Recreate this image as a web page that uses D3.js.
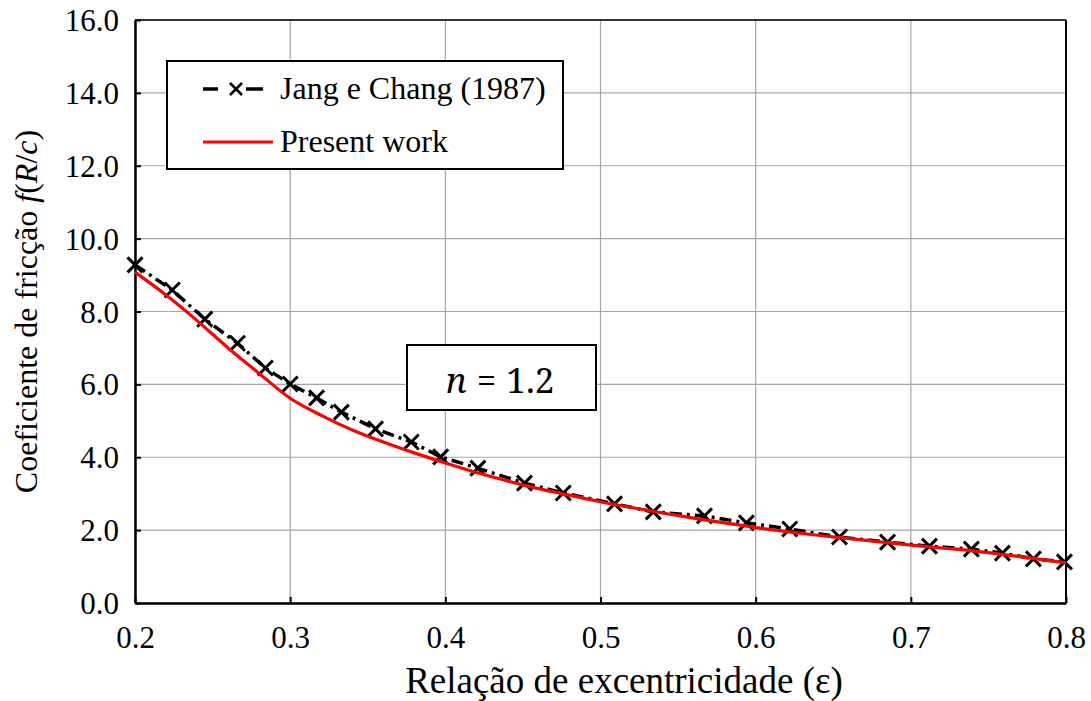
<!DOCTYPE html>
<html>
<head>
<meta charset="utf-8">
<script src="https://cdn.jsdelivr.net/npm/d3@7"></script>
</head>
<body style="margin:0">
<svg id="chart" width="1091" height="701" font-family="Liberation Serif" style="display:block"></svg>
<script>
// Jang e Chang (1987): eccentricity ratio and friction coefficient f(R/c)
const jangEps = [0.200, 0.224, 0.245, 0.266, 0.284, 0.300, 0.317, 0.333, 0.355, 0.378, 0.397,
                 0.421, 0.451, 0.476, 0.509, 0.534, 0.567, 0.594, 0.622, 0.654, 0.685, 0.712,
                 0.739, 0.759, 0.779, 0.799];
const jangF   = [9.28, 8.59, 7.79, 7.13, 6.45, 6.01, 5.63, 5.24, 4.78, 4.42, 4.01,
                 3.70, 3.29, 3.02, 2.72, 2.50, 2.39, 2.20, 2.03, 1.81, 1.67, 1.56,
                 1.48, 1.37, 1.21, 1.13];

// Present work
const workEps = [0.20, 0.22, 0.24, 0.26, 0.28, 0.30, 0.32, 0.34, 0.36, 0.38, 0.40,
                 0.42, 0.44, 0.46, 0.48, 0.50, 0.52, 0.54, 0.56, 0.58, 0.60,
                 0.62, 0.64, 0.66, 0.68, 0.70, 0.72, 0.74, 0.76, 0.78, 0.80];
const workF   = [9.08, 8.45, 7.75, 7.00, 6.30, 5.62, 5.15, 4.75, 4.42, 4.12, 3.84,
                 3.58, 3.35, 3.14, 2.96, 2.78, 2.62, 2.47, 2.33, 2.20, 2.07,
                 1.96, 1.86, 1.77, 1.68, 1.59, 1.51, 1.43, 1.33, 1.22, 1.10];

const xTicks = [0.2, 0.3, 0.4, 0.5, 0.6, 0.7, 0.8];
const yTicks = [0, 2, 4, 6, 8, 10, 12, 14, 16];
const seriesNames = ["Jang e Chang (1987)", "Present work"];

const W = 1091, H = 701;
const margin = { top: 20, right: 25, bottom: 98, left: 135 };
const svg = d3.select("#chart");
const serif = '"Liberation Serif"';
const mathFont = '"Noto Serif"';

const x = d3.scaleLinear().domain([0.2, 0.8]).range([margin.left, W - margin.right]);
const y = d3.scaleLinear().domain([0, 16]).range([H - margin.bottom, margin.top]);

// grid
const grid = svg.append("g");
grid.selectAll("line.v").data(xTicks).join("line")
  .attr("x1", d => x(d)).attr("x2", d => x(d))
  .attr("y1", y(0)).attr("y2", y(16))
  .attr("stroke", "#a6a6a6").attr("stroke-width", 1.2);
grid.selectAll("line.h").data(yTicks).join("line")
  .attr("x1", x(0.2)).attr("x2", x(0.8))
  .attr("y1", d => y(d)).attr("y2", d => y(d))
  .attr("stroke", "#a6a6a6").attr("stroke-width", 1.2);

// frame
svg.append("line").attr("x1", x(0.2)).attr("x2", x(0.8)).attr("y1", y(16)).attr("y2", y(16))
  .attr("stroke", "#000").attr("stroke-width", 1.5);
svg.append("line").attr("x1", x(0.8)).attr("x2", x(0.8)).attr("y1", y(0)).attr("y2", y(16))
  .attr("stroke", "#000").attr("stroke-width", 2);

// axes
const xAxis = svg.append("g").attr("transform", `translate(0,${y(0)})`)
  .call(d3.axisBottom(x).tickValues(xTicks).tickFormat(d3.format(".1f")).tickSizeInner(-6).tickSizeOuter(0).tickPadding(23));
const yAxis = svg.append("g").attr("transform", `translate(${x(0.2)},0)`)
  .call(d3.axisLeft(y).tickValues(yTicks).tickFormat(d3.format(".1f")).tickSizeInner(-6).tickSizeOuter(0).tickPadding(16));
[xAxis, yAxis].forEach(a => {
  a.attr("font-family", "Liberation Serif").attr("font-size", 31);
  a.select(".domain").attr("stroke", "#000").attr("stroke-width", 2.5);
  a.selectAll(".tick line").attr("stroke", "#000").attr("stroke-width", 2);
  a.selectAll(".tick text").attr("font-family", "Liberation Serif").style("font-family", serif)
    .style("font-size", "31px").attr("fill", "#000");
});
yAxis.selectAll(".tick text").attr("dy", "0.34em");

// axis titles
svg.append("text").attr("x", 624).attr("y", 693).attr("text-anchor", "middle")
  .attr("font-family", "Liberation Serif").style("font-family", serif)
  .style("font-size", "37px").attr("fill", "#000")
  .text("Relação de excentricidade (ε)");

const yt = svg.append("text").attr("transform", `translate(37,${(y(0) + y(16)) / 2}) rotate(-90)`)
  .attr("text-anchor", "middle").attr("font-family", "Liberation Serif").style("font-family", serif)
  .style("font-size", "32px").attr("fill", "#000");
yt.append("tspan").text("Coeficiente de fricção ");
yt.append("tspan").style("font-style", "italic").text("f");
yt.append("tspan").text("(");
yt.append("tspan").style("font-style", "italic").text("R");
yt.append("tspan").text("/");
yt.append("tspan").style("font-style", "italic").text("c");
yt.append("tspan").text(")");

// series
const jang = jangEps.map((e, i) => [e, jangF[i]]);
const work = workEps.map((e, i) => [e, workF[i]]);

svg.append("path").datum(jang)
  .attr("d", d3.line().x(d => x(d[0])).y(d => y(d[1])))
  .attr("fill", "none").attr("stroke", "#000").attr("stroke-width", 3.5)
  .attr("stroke-dasharray", "12,5,3,5");

function cross(g, cx, cy, r, w) {
  g.append("path")
    .attr("d", `M${cx - r},${cy - r}L${cx + r},${cy + r}M${cx - r},${cy + r}L${cx + r},${cy - r}`)
    .attr("stroke", "#000").attr("stroke-width", w).attr("fill", "none");
}
const marks = svg.append("g");
jang.forEach(d => cross(marks, x(d[0]), y(d[1]), 7.5, 3));

svg.append("path").datum(work)
  .attr("d", d3.line().x(d => x(d[0])).y(d => y(d[1])).curve(d3.curveMonotoneX))
  .attr("fill", "none").attr("stroke", "#ff0000").attr("stroke-width", 3.2);

// legend
const lg = svg.append("g");
lg.append("rect").attr("x", 167).attr("y", 61).attr("width", 396).attr("height", 108)
  .attr("fill", "#fff").attr("stroke", "#000").attr("stroke-width", 2);
lg.append("line").attr("x1", 203).attr("x2", 218).attr("y1", 89).attr("y2", 89)
  .attr("stroke", "#000").attr("stroke-width", 3.5);
lg.append("line").attr("x1", 246).attr("x2", 263).attr("y1", 89).attr("y2", 89)
  .attr("stroke", "#000").attr("stroke-width", 3.5);
cross(lg, 236, 89, 6, 2.6);
lg.append("line").attr("x1", 203).attr("x2", 273).attr("y1", 142).attr("y2", 142)
  .attr("stroke", "#ff0000").attr("stroke-width", 3.2);
lg.selectAll("text.leg").data(seriesNames).join("text")
  .attr("x", 280).attr("y", (d, i) => 99 + i * 53)
  .attr("font-family", "Liberation Serif").style("font-family", serif)
  .style("font-size", "32px").attr("fill", "#000")
  .text(d => d);

// parameter label
const nb = svg.append("g");
nb.append("rect").attr("x", 407).attr("y", 345).attr("width", 189).attr("height", 65)
  .attr("fill", "#fff").attr("stroke", "#000").attr("stroke-width", 2);
const nt = nb.append("text").attr("x", 500).attr("y", 393).attr("text-anchor", "middle")
  .attr("font-family", "Noto Serif").style("font-family", mathFont)
  .style("font-size", "35px").attr("fill", "#000");
nt.append("tspan").style("font-style", "italic").text("n");
nt.append("tspan").attr("dx", 10).text("=");
nt.append("tspan").attr("dx", 10).text("1.2");
</script>
</body>
</html>
